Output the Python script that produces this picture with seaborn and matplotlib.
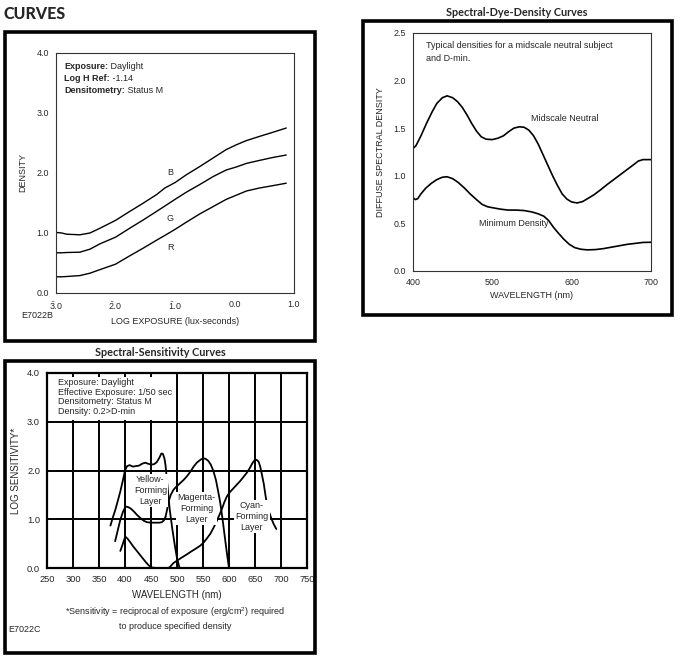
import matplotlib
matplotlib.use('Agg')
import matplotlib.pyplot as plt
import seaborn as sns
import pandas as pd
from matplotlib.patches import Rectangle

# ---------------- data: characteristic curves ----------------
log_exposure = [-3.0, -2.905, -2.82, -2.6, -2.43, -2.26, -2.0, -1.76, -1.53, -1.31, -1.17, -1.0,
                -0.81, -0.58, -0.36, -0.14, 0.03, 0.2, 0.42, 0.65, 0.87]
density_B = [1.01, 1.0, 0.98, 0.97, 1.0, 1.08, 1.21, 1.36, 1.50, 1.64, 1.75, 1.84,
             1.97, 2.11, 2.25, 2.39, 2.47, 2.54, 2.61, 2.68, 2.75]
density_G = [0.67, 0.67, 0.675, 0.68, 0.73, 0.82, 0.93, 1.08, 1.22, 1.36, 1.45, 1.56,
             1.68, 1.81, 1.94, 2.05, 2.1, 2.16, 2.21, 2.26, 2.3]
density_R = [0.27, 0.27, 0.275, 0.29, 0.33, 0.39, 0.48, 0.62, 0.75, 0.88, 0.96, 1.06,
             1.18, 1.32, 1.44, 1.56, 1.63, 1.7, 1.75, 1.79, 1.83]
curve_labels = ['B', 'G', 'R']
curve_label_pos = [(-1.08, 2.0), (-1.08, 1.24), (-1.08, 0.75)]
log_ticks = [-3, -2, -1, 0, 1]
log_tick_labels = [r'$\bar{3}$.0', r'$\bar{2}$.0', r'$\bar{1}$.0', '0.0', '1.0']
info1_keys = ['Exposure:', 'Log H Ref:', 'Densitometry:']
info1_vals = ['Daylight', '-1.14', 'Status M']

# ---------------- data: spectral dye density ----------------
wl_mid = [400, 404, 410, 417, 424, 430, 437, 443, 450, 456, 462, 468, 474, 480, 486, 492, 500,
          507, 514, 520, 527, 534, 540, 546, 552, 558, 564, 570, 576, 582, 588, 594, 600, 607,
          614, 620, 628, 636, 645, 653, 661, 669, 677, 684, 690, 700]
dens_mid = [1.285, 1.32, 1.42, 1.55, 1.67, 1.76, 1.82, 1.84, 1.82, 1.78, 1.72, 1.64, 1.55, 1.47,
            1.41, 1.385, 1.38, 1.395, 1.42, 1.46, 1.50, 1.515, 1.51, 1.48, 1.42, 1.33, 1.22, 1.11,
            1.0, 0.9, 0.81, 0.755, 0.725, 0.715, 0.73, 0.76, 0.80, 0.85, 0.91, 0.96, 1.01, 1.06,
            1.11, 1.155, 1.17, 1.17]
wl_min = [400, 403, 406, 410, 416, 423, 430, 437, 443, 450, 457, 465, 472, 480, 487, 494, 500,
          510, 520, 530, 540, 550, 558, 565, 571, 577, 583, 590, 597, 604, 612, 620, 630, 640,
          650, 660, 670, 680, 690, 700]
dens_min = [0.77, 0.75, 0.76, 0.81, 0.87, 0.92, 0.96, 0.985, 0.99, 0.97, 0.93, 0.87, 0.81, 0.75,
            0.70, 0.675, 0.665, 0.65, 0.64, 0.64, 0.635, 0.62, 0.6, 0.575, 0.53, 0.46, 0.40, 0.335,
            0.28, 0.245, 0.228, 0.222, 0.225, 0.235, 0.25, 0.265, 0.28, 0.29, 0.3, 0.302]
note2_lines = ['Typical densities for a midscale neutral subject', 'and D-min.']

# ---------------- data: spectral sensitivity ----------------
wl_y1 = [372, 377, 381, 386, 391, 396, 400, 404, 409, 415, 421, 427, 433, 439, 444, 450, 456,
         461, 466, 470, 473, 476, 478, 482, 486, 491, 496, 500, 505]
sens_y1 = [0.87, 1.05, 1.18, 1.37, 1.57, 1.8, 2.0, 2.09, 2.11, 2.08, 2.09, 2.1, 2.14, 2.16, 2.14,
           2.12, 2.13, 2.17, 2.26, 2.35, 2.34, 2.24, 2.1, 1.65, 1.2, 0.8, 0.45, 0.2, 0.0]
wl_y2 = [381, 386, 391, 396, 401, 406, 411, 417, 423, 430, 436, 442, 450, 458, 466, 471, 475, 478]
sens_y2 = [0.55, 0.77, 0.99, 1.15, 1.26, 1.25, 1.22, 1.16, 1.09, 1.02, 0.97, 0.94, 0.93, 0.93,
           0.93, 0.94, 0.98, 1.05]
wl_y3 = [391, 395, 399, 401, 405, 410, 416, 422, 428, 434, 440, 446, 452, 460, 470]
sens_y3 = [0.35, 0.47, 0.6, 0.64, 0.6, 0.53, 0.44, 0.36, 0.28, 0.2, 0.12, 0.05, 0.01, 0.0, 0.0]
wl_mag = [478, 481, 484, 488, 493, 497, 502, 507, 513, 519, 526, 532, 538, 545, 550, 555, 560,
          565, 570, 575, 579, 583, 587, 590, 593, 596, 598, 600]
sens_mag = [1.05, 1.2, 1.37, 1.5, 1.6, 1.65, 1.7, 1.75, 1.81, 1.88, 1.98, 2.08, 2.16, 2.22, 2.25,
            2.24, 2.2, 2.12, 1.99, 1.8, 1.58, 1.35, 1.05, 0.8, 0.55, 0.3, 0.15, 0.0]
wl_cyan = [484, 488, 493, 500, 507, 513, 519, 526, 532, 538, 545, 551, 557, 564, 570, 575, 580,
           586, 591, 596, 602, 609, 615, 622, 628, 634, 640, 645, 649, 653, 657, 660, 663, 667,
           670, 673, 677, 682, 686, 691]
sens_cyan = [0.0, 0.04, 0.1, 0.15, 0.2, 0.24, 0.28, 0.33, 0.37, 0.41, 0.46, 0.52, 0.6, 0.7, 0.82,
             0.93, 1.05, 1.2, 1.35, 1.47, 1.56, 1.64, 1.71, 1.79, 1.87, 1.95, 2.05, 2.15, 2.21,
             2.22, 2.18, 2.08, 1.93, 1.72, 1.5, 1.3, 1.15, 1.0, 0.9, 0.8]
layer_labels = ['Yellow-\nForming\nLayer', 'Magenta-\nForming\nLayer', 'Cyan-\nForming\nLayer']
layer_label_pos = [(449, 1.59), (538, 1.22), (644, 1.06)]
info3_lines = ['Exposure: Daylight', 'Effective Exposure: 1/50 sec',
               'Densitometry: Status M', 'Density: 0.2>D-min']

# ---------------- style ----------------
sns.set_theme(style='white')
plt.rcParams['font.family'] = ['Liberation Sans', 'DejaVu Sans']
plt.rcParams['mathtext.fontset'] = 'custom'
plt.rcParams['mathtext.rm'] = 'Liberation Sans'
plt.rcParams['mathtext.it'] = 'Liberation Sans'
plt.rcParams['mathtext.bf'] = 'Liberation Sans:bold'

W, H = 680, 659
fig = plt.figure(figsize=(6.8, 6.59), dpi=100)
FS = 6.5
TFS = 6.4


def rect(l, t, r, b):
    return [l / W, 1 - b / H, (r - l) / W, (b - t) / H]


def frame(l, t, r, b):
    fig.add_artist(Rectangle((l / W, 1 - b / H), (r - l) / W, (b - t) / H,
                             transform=fig.transFigure, fill=False, lw=2.6,
                             ec='black', zorder=10))


# ================= Panel 1 =================
ax1 = fig.add_axes(rect(56, 53, 294, 293))
df1 = pd.DataFrame({
    'x': log_exposure * 3,
    'y': density_B + density_G + density_R,
    'layer': ['B'] * len(log_exposure) + ['G'] * len(log_exposure) + ['R'] * len(log_exposure),
})
sns.lineplot(data=df1, x='x', y='y', hue='layer', palette={'B': 'black', 'G': 'black', 'R': 'black'},
             legend=False, lw=1.0, ax=ax1, sort=False, estimator=None)
ax1.set_xlim(-3, 1)
ax1.set_ylim(0, 4)
ax1.set_xticks(log_ticks)
ax1.set_xticklabels(log_tick_labels)
ax1.set_yticks([0, 1, 2, 3, 4])
ax1.set_yticklabels(['0.0', '1.0', '2.0', '3.0', '4.0'])
ax1.tick_params(direction='in', length=4, width=0.8, labelsize=TFS, pad=5, color='#333333')
for s in ax1.spines.values():
    s.set_linewidth(0.8)
    s.set_color('#333333')
ax1.set_xlabel('LOG EXPOSURE (lux-seconds)', fontsize=FS, labelpad=4)
ax1.set_ylabel('DENSITY', fontsize=FS, labelpad=7)
for lab, (x, y) in zip(curve_labels, curve_label_pos):
    ax1.text(x, y, lab, ha='center', va='center', fontsize=FS)
for i, (k, v) in enumerate(zip(info1_keys, info1_vals)):
    t = ax1.text(-2.86, 3.77 - i * 0.195, k, fontsize=FS, weight='bold', va='center')
    ax1.annotate(' ' + v, xy=(1, 0), xycoords=t, va='bottom', ha='left', fontsize=FS)
fig.text(21 / W, 1 - 315 / H, 'E7022B', fontsize=FS, va='center', ha='left')
fig.text(4 / W, 1 - 14 / H, 'CURVES', fontsize=11.5, weight=900, family='Lato',
         va='center', ha='left')
frame(5, 32, 315, 341)

# ================= Panel 2 =================
ax2 = fig.add_axes(rect(413, 33, 651, 271))
df2 = pd.DataFrame({
    'wl': wl_mid + wl_min,
    'd': dens_mid + dens_min,
    'curve': ['Midscale Neutral'] * len(wl_mid) + ['Minimum Density'] * len(wl_min),
})
sns.lineplot(data=df2, x='wl', y='d', hue='curve',
             palette={'Midscale Neutral': 'black', 'Minimum Density': 'black'},
             legend=False, lw=1.2, ax=ax2, sort=False, estimator=None)
ax2.set_xlim(400, 700)
ax2.set_ylim(0, 2.5)
ax2.set_xticks([400, 500, 600, 700])
ax2.set_yticks([0, 0.5, 1.0, 1.5, 2.0, 2.5])
ax2.set_yticklabels(['0.0', '0.5', '1.0', '1.5', '2.0', '2.5'])
ax2.tick_params(direction='in', length=4, width=0.8, labelsize=TFS, pad=5, color='#333333')
for s in ax2.spines.values():
    s.set_linewidth(0.8)
    s.set_color('#333333')
ax2.set_xlabel('WAVELENGTH (nm)', fontsize=FS, labelpad=3)
ax2.set_ylabel('DIFFUSE SPECTRAL DENSITY', fontsize=FS, labelpad=6)
for i, line in enumerate(note2_lines):
    ax2.text(417, 2.37 - i * 0.135, line, fontsize=FS, va='center', ha='left')
ax2.text(548.5, 1.60, 'Midscale Neutral', fontsize=FS, va='center', ha='left')
ax2.text(482.7, 0.50, 'Minimum Density', fontsize=FS, va='center', ha='left')
fig.text(517 / W, 1 - 12 / H, 'Spectral-Dye-Density Curves', fontsize=7.8, weight='bold',
         family='Lato', ha='center', va='center')
frame(363, 21, 672, 315)

# ================= Panel 3 =================
ax3 = fig.add_axes(rect(47, 373, 307, 568))
df3 = pd.DataFrame({
    'wl': wl_y1 + wl_y2 + wl_y3 + wl_mag + wl_cyan,
    's': sens_y1 + sens_y2 + sens_y3 + sens_mag + sens_cyan,
    'curve': (['y1'] * len(wl_y1) + ['y2'] * len(wl_y2) + ['y3'] * len(wl_y3)
              + ['mag'] * len(wl_mag) + ['cyan'] * len(wl_cyan)),
})
sns.lineplot(data=df3, x='wl', y='s', hue='curve',
             palette={c: 'black' for c in ['y1', 'y2', 'y3', 'mag', 'cyan']},
             legend=False, lw=1.3, ax=ax3, sort=False, estimator=None)
ax3.set_xlim(250, 750)
ax3.set_ylim(0, 4)
ax3.set_xticks(list(range(250, 751, 50)))
ax3.set_yticks([0, 1, 2, 3, 4])
ax3.set_yticklabels(['0.0', '1.0', '2.0', '3.0', '4.0'])
ax3.set_axisbelow(True)
ax3.grid(True, color='black', lw=1.4)
ax3.tick_params(length=0, labelsize=TFS + 0.3, pad=5)
for s in ax3.spines.values():
    s.set_linewidth(1.6)
    s.set_color('black')
ax3.set_xlabel('WAVELENGTH (nm)', fontsize=FS + 0.5, labelpad=4)
ax3.set_ylabel('LOG SENSITIVITY*', fontsize=FS + 0.5, labelpad=4)
ax3.add_patch(Rectangle((252, 3.03), 245, 0.88, facecolor='white', edgecolor='none', zorder=1))
for i, line in enumerate(info3_lines):
    ax3.text(272, 3.81 - i * 0.2, line, fontsize=FS, va='center', ha='left', zorder=3)
for lab, (x, y) in zip(layer_labels, layer_label_pos):
    ax3.text(x, y, lab, fontsize=FS, ha='center', va='center', linespacing=1.25, zorder=3,
             bbox=dict(boxstyle='square,pad=0.15', fc='white', ec='none'))
fig.text(175 / W, 1 - 618 / H,
         '*Sensitivity = reciprocal of exposure (erg/cm$^2$) required\nto produce specified density',
         fontsize=FS, ha='center', va='center', linespacing=1.4)
fig.text(8 / W, 1 - 630 / H, 'E7022C', fontsize=FS, ha='left', va='center')
fig.text(160 / W, 1 - 353 / H, 'Spectral-Sensitivity Curves', fontsize=7.8, weight='bold',
         family='Lato', ha='center', va='center')
fig.add_artist(Rectangle((316 / W, 1 - 592 / H), 22 / W, 24 / H, transform=fig.transFigure,
                         facecolor='white', edgecolor='none', zorder=9))
frame(5, 361, 315, 653)

fig.savefig('out.png', dpi=100)
